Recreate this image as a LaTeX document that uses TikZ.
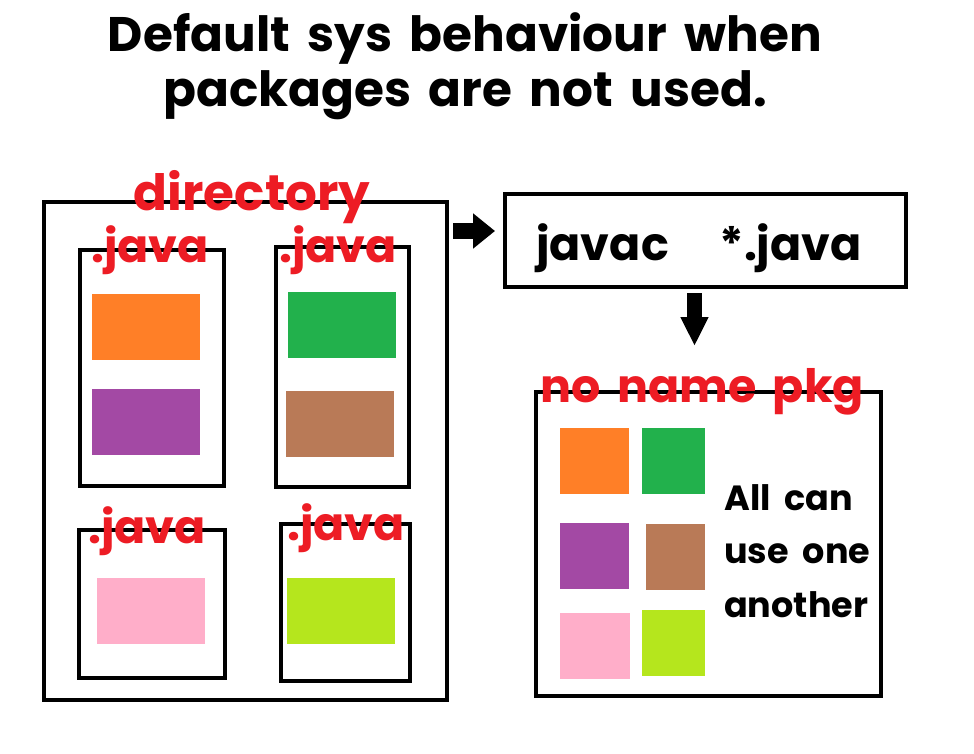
\documentclass[tikz,border=0pt]{standalone}
\usepackage{fontspec}
\setmainfont{Poppins}
\usetikzlibrary{arrows.meta,calc}
\definecolor{cred}{HTML}{ED1C24}
\definecolor{corange}{HTML}{FF7F27}
\definecolor{cpurple}{HTML}{A349A4}
\definecolor{cgreen}{HTML}{22B14C}
\definecolor{cbrown}{HTML}{B97A57}
\definecolor{cpink}{HTML}{FFAEC9}
\definecolor{clime}{HTML}{B5E61D}
\newcommand\myWideSpace{\spaceskip 0.36em\relax}
\newcommand\myWiderSpace{\spaceskip 0.4em\relax}
\begin{document}
\begin{tikzpicture}[x=1pt,y=-1pt,
  frame/.style={draw=black, line width=4pt, inner sep=0pt, anchor=north west},
  patch/.style={inner sep=0pt, anchor=north west, draw=none},
  title/.style={font=\fontsize{48.5}{48.5}\selectfont\bfseries\myWideSpace, anchor=base, inner sep=0pt},
  lbl/.style={font=\fontsize{46}{46}\selectfont\bfseries\myWideSpace, text=cred, anchor=base, inner sep=0pt},
  body/.style={font=\fontsize{35}{35}\selectfont\bfseries\myWiderSpace, anchor=base west, inner sep=0pt},
  blockarrow/.style={draw=black, line width=16pt}
]
\useasboundingbox (0,0) rectangle (974,754);
\fill[white] (0,0) rectangle (974,754);

% title
\node[title] (t1) at (465,52) {Default sys behaviour when};
\node[title] (t2) at (465,107) {packages are not used.};

% directory
\node[frame, minimum width=403pt, minimum height=498pt] (dir) at (42,200) {};
\node[frame, minimum width=144pt, minimum height=236pt] (f1) at (78,248) {};
\node[frame, minimum width=133pt, minimum height=240pt] (f2) at (274,245) {};
\node[frame, minimum width=146pt, minimum height=148pt] (f3) at (77,528) {};
\node[frame, minimum width=129pt, minimum height=157pt] (f4) at (279,522) {};

\node[patch, fill=corange, minimum width=108pt, minimum height=66pt] (a1) at (92,294) {};
\node[patch, fill=cpurple, minimum width=108pt, minimum height=66pt] (a2) at (92,389) {};
\node[patch, fill=cgreen,  minimum width=108pt, minimum height=66pt] (b1) at (288,292) {};
\node[patch, fill=cbrown,  minimum width=108pt, minimum height=66pt] (b2) at (286,391) {};
\node[patch, fill=cpink,   minimum width=108pt, minimum height=66pt] (c1) at (97,578) {};
\node[patch, fill=clime,   minimum width=108pt, minimum height=66pt] (d1) at (287,578) {};

\node[lbl, font=\fontsize{50}{50}\selectfont\bfseries] (ldir) at (252,211) {directory};
\node[lbl] (l1) at (150,262) {.java};
\node[lbl] (l2) at (338,262) {.java};
\node[lbl] (l3) at (147,543) {.java};
\node[lbl] (l4) at (346,540) {.java};

% javac
\node[frame, minimum width=401pt, minimum height=93pt] (javac) at (503,192) {};
\node[title, font=\fontsize{46}{46}\selectfont\bfseries] (jt) at (699,260) {javac\hspace{1.1em}*.java};

% pkg
\node[frame, minimum width=345pt, minimum height=304pt] (pkg) at (534,390) {};
\node[lbl] (lpkg) at (702,402) {no name pkg};
\node[patch, fill=corange, minimum width=69pt, minimum height=66pt] (p1) at (560,428) {};
\node[patch, fill=cgreen,  minimum width=63pt, minimum height=66pt] (p2) at (642,428) {};
\node[patch, fill=cpurple, minimum width=69pt, minimum height=66pt] (p3) at (560,523) {};
\node[patch, fill=cbrown,  minimum width=59pt, minimum height=66pt] (p4) at (646,524) {};
\node[patch, fill=cpink,   minimum width=70pt, minimum height=66pt] (p5) at (560,613) {};
\node[patch, fill=clime,   minimum width=63pt, minimum height=66pt] (p6) at (642,610) {};
\node[body] (x1) at (724,510) {All can};
\node[body] (x2) at (724,563) {use one};
\node[body] (x3) at (724,617) {another};

% arrows
\coordinate (r0) at (453,231);
\coordinate (r1) at (495,231);
\draw[blockarrow, -{Triangle[length=22pt,width=34pt]}] (r0) -- (r1);
\coordinate (d0) at (694.5,293);
\coordinate (d1) at (694.5,346);
\draw[line width=15pt, -{Triangle[length=29pt,width=26pt]}] (d0) -- (d1);
\end{tikzpicture}
\end{document}
